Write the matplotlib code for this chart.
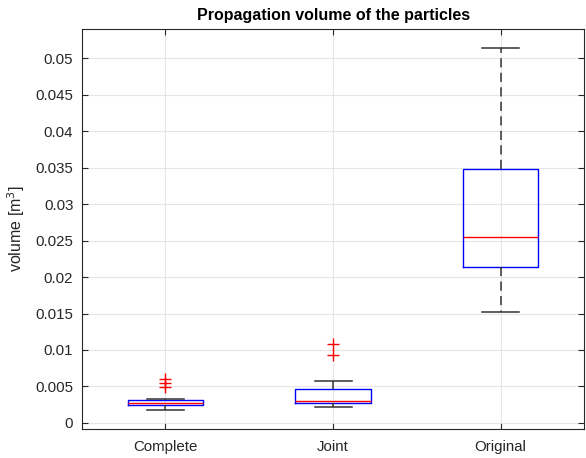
import matplotlib
matplotlib.use("Agg")
import matplotlib.pyplot as plt

categories = ["Complete", "Joint", "Original"]
medians = [0.00275, 0.0030, 0.02555]
q1s = [0.00248, 0.00274, 0.02137]
q3s = [0.00310, 0.00470, 0.0348]
whislo = [0.00173, 0.00214, 0.0152]
whishi = [0.00329, 0.0057, 0.05145]
fliers = [[0.0060, 0.0055, 0.0049], [0.01086, 0.00932], []]
yticks = [0, 0.005, 0.01, 0.015, 0.02, 0.025, 0.03, 0.035, 0.04, 0.045, 0.05]
ytick_labels = ["0", "0.005", "0.01", "0.015", "0.02", "0.025", "0.03", "0.035", "0.04", "0.045", "0.05"]

plt.rcParams['font.family'] = ['Liberation Sans', 'DejaVu Sans']

fig = plt.figure(figsize=(5.86, 4.58), dpi=100)
ax = fig.add_axes([0.1394, 0.064, 0.858, 0.872])

stats = []
for i, c in enumerate(categories):
    stats.append(dict(label=c, med=medians[i], q1=q1s[i], q3=q3s[i],
                      whislo=whislo[i], whishi=whishi[i], fliers=fliers[i]))

ax.bxp(stats, positions=[1, 2, 3], widths=0.45, showfliers=True,
       boxprops=dict(color='#0000ff', linewidth=1.0),
       medianprops=dict(color='#ff0000', linewidth=1.0),
       whiskerprops=dict(color='#333333', linewidth=1.1, linestyle=(0, (6, 3.5))),
       capprops=dict(color='#333333', linewidth=1.1),
       capwidths=0.22,
       flierprops=dict(marker='+', markeredgecolor='#ff0000', markersize=8, linestyle='none'))

ax.set_xlim(0.5, 3.5)
ax.set_ylim(-0.0008, 0.054)
ax.set_yticks(yticks)
ax.set_yticklabels(ytick_labels)
ax.set_xticks([1, 2, 3])
ax.set_xticklabels(categories)
ax.grid(True, color='#e6e6e6', linewidth=0.8)
ax.set_axisbelow(True)
ax.tick_params(direction='in', length=4, color='#262626', labelsize=10.8, labelcolor='#262626',
               top=True, right=True)
ax.tick_params(axis='y', pad=6)
ax.tick_params(axis='x', pad=8)
for s in ax.spines.values():
    s.set_color('#262626')
    s.set_linewidth(0.8)
ax.set_ylabel("volume [m$^3$]", fontsize=11.5, color='#262626', labelpad=6)
ax.set_title("Propagation volume of the particles", fontsize=11.5, fontweight='bold', pad=7)

fig.savefig("out.png", dpi=100)
